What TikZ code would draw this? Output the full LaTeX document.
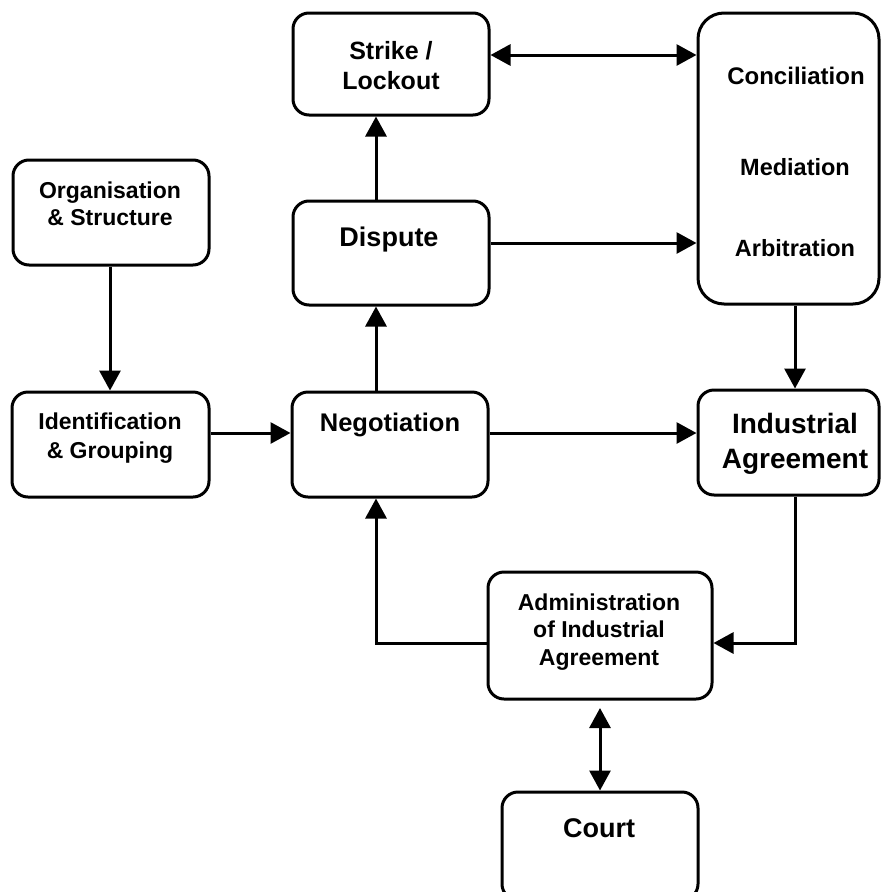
\documentclass[tikz,border=0pt]{standalone}
\usepackage{fontspec}
\setmainfont{Liberation Sans}
\usetikzlibrary{arrows.meta}
\tikzset{
  box/.style={draw, line width=3pt, rounded corners=16pt, inner sep=0pt},
  lbl/.style={font=\bfseries\fontsize{23}{28}\selectfont, align=center, inner sep=0pt},
  conn/.style={line width=3pt, -{Triangle[length=20pt,width=21pt]}},
  biconn/.style={line width=3pt, {Triangle[length=20pt,width=21pt]}-{Triangle[length=20pt,width=21pt]}}
}
\begin{document}
\begin{tikzpicture}[x=1pt,y=-1pt]
\useasboundingbox (0,0) rectangle (881,892);
% boxes
\node[box, minimum width=196pt, minimum height=102pt] (strike) at (391,64) {};
\node[box, rounded corners=26pt, minimum width=181pt, minimum height=291pt] (conc) at (788.5,158.5) {};
\node[box, minimum width=196pt, minimum height=105pt] (org) at (111,212.5) {};
\node[box, minimum width=196pt, minimum height=104pt] (disp) at (391,253) {};
\node[box, minimum width=197pt, minimum height=105pt] (ident) at (110.5,444.5) {};
\node[box, minimum width=196pt, minimum height=105pt] (nego) at (390,444.5) {};
\node[box, minimum width=181pt, minimum height=105pt] (indus) at (788.5,442.5) {};
\node[box, minimum width=224pt, minimum height=127pt] (admin) at (600,635.5) {};
\node[box, minimum width=196pt, minimum height=108pt] (court) at (600,846) {};
% labels
\node[lbl, font=\bfseries\fontsize{25}{30}\selectfont] (strikeT) at (391,66) {Strike /\\Lockout};
\node[lbl, font=\bfseries\fontsize{24}{28}\selectfont] (concA) at (796,76) {Conciliation};
\node[lbl, font=\bfseries\fontsize{23.5}{28}\selectfont] (concB) at (795,167) {Mediation};
\node[lbl, font=\bfseries\fontsize{23.5}{28}\selectfont] (concC) at (795,248) {Arbitration};
\node[lbl, font=\bfseries\fontsize{23}{27}\selectfont] (orgT) at (110,204) {Organisation\\\& Structure};
\node[lbl, font=\bfseries\fontsize{27}{32}\selectfont] (dispT) at (389,240) {Dispute};
\node[lbl, font=\bfseries\fontsize{23}{29}\selectfont] (identT) at (110,438) {Identification\\\& Grouping};
\node[lbl, font=\bfseries\fontsize{25.5}{30}\selectfont] (negoT) at (390,425) {Negotiation};
\node[lbl, font=\bfseries\fontsize{28}{35}\selectfont] (indusT) at (795,444) {Industrial\\Agreement};
\node[lbl, font=\bfseries\fontsize{23}{27.5}\selectfont] (adminT) at (599,632) {Administration\\of Industrial\\Agreement};
\node[lbl, font=\bfseries\fontsize{27}{32}\selectfont] (courtT) at (599,828) {Court};
% connectors
\draw[biconn] (strike.east |- 0,55) -- (conc.west |- 0,55);
\draw[conn] (disp.north -| 376,0) -- (strike.south -| 376,0);
\draw[conn] (disp.east |- 0,243) -- (conc.west |- 0,243);
\draw[conn] (org.south -| 110,0) -- (ident.north -| 110,0);
\draw[conn] (ident.east |- 0,433) -- (nego.west |- 0,433);
\draw[conn] (nego.north -| 376,0) -- (disp.south -| 376,0);
\draw[conn] (nego.east |- 0,433) -- (indus.west |- 0,433);
\draw[conn] (conc.south -| 795,0) -- (indus.north -| 795,0);
\draw[conn, line join=miter] (indus.south -| 795,0) |- (admin.east |- 0,643);
\draw[conn, line join=miter] (admin.west |- 0,643) -| (nego.south -| 376,0);
\coordinate (adminB) at (600,708);
\draw[biconn] (adminB) -- (court.north);
\end{tikzpicture}
\end{document}
